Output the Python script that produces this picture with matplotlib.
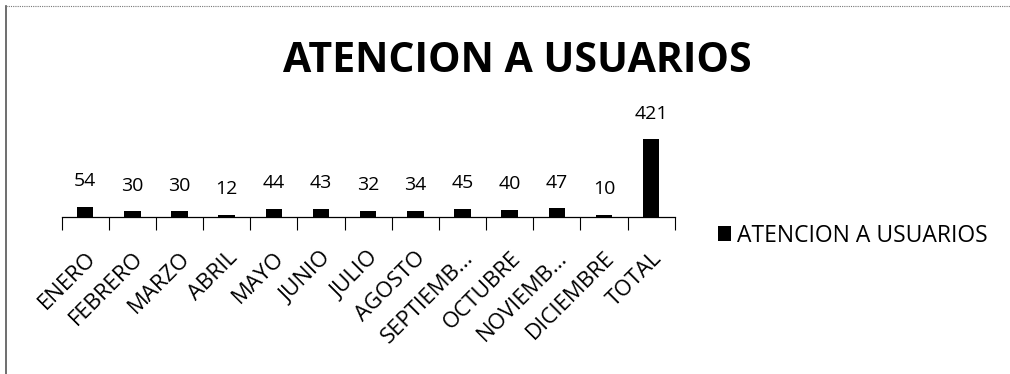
import numpy as np
import matplotlib.pyplot as plt
from matplotlib.lines import Line2D

# data
meses = ["ENERO", "FEBRERO", "MARZO", "ABRIL", "MAYO", "JUNIO", "JULIO",
         "AGOSTO", "SEPTIEMB...", "OCTUBRE", "NOVIEMB...", "DICIEMBRE", "TOTAL"]
valores = [54, 30, 30, 12, 44, 43, 32, 34, 45, 40, 47, 10, 421]
serie = "ATENCION A USUARIOS"

plt.rcParams['font.family'] = ['Open Sans', 'DejaVu Sans']

fig = plt.figure(figsize=(10.1, 3.74), dpi=100)
fig.patch.set_facecolor('white')
ax = fig.add_axes([0.061, 0.42, 0.607, 0.222])

x = np.arange(len(meses))
bars = ax.bar(x, valores, width=0.35, color='black', label=serie)

for xi, v in zip(x, valores):
    ax.annotate(str(v), (xi, v), xytext=(0, 12), textcoords='offset points',
                ha='center', va='bottom', fontsize=14)

ax.set_xlim(-0.5, len(meses) - 0.5)
ax.set_ylim(0, 450)
ax.set_xticks(np.arange(len(meses) + 1) - 0.5)
ax.set_xticklabels([])
ax.set_xticks(x, minor=True)
ax.set_xticklabels(meses, minor=True, rotation=45, ha='right',
                   rotation_mode='anchor', fontsize=16)
ax.tick_params(axis='x', which='major', direction='out', length=9, width=0.8)
ax.tick_params(axis='x', which='minor', length=0, pad=22)
ax.set_yticks([])
for s in ['top', 'right', 'left']:
    ax.spines[s].set_visible(False)
ax.spines['bottom'].set_linewidth(0.9)

fig.text(0.512, 0.835, "ATENCION A USUARIOS", ha='center', va='center',
         fontsize=29.5, fontweight='bold')

fig.legend(handles=[bars], labels=[serie], loc='center left',
           bbox_to_anchor=(0.69, 0.37), frameon=False, fontsize=16.5,
           handlelength=0.6, handleheight=0.6, handletextpad=0.25)

# scan frame (left and dotted top edge)
fig.add_artist(Line2D([0.006, 0.006], [0.0, 0.985], color='#555555', lw=1.2))
fig.add_artist(Line2D([0.006, 1.0], [0.985, 0.985], color='#777777', lw=0.8,
                      linestyle=(0, (1, 1))))

fig.savefig("out.png", dpi=100)
